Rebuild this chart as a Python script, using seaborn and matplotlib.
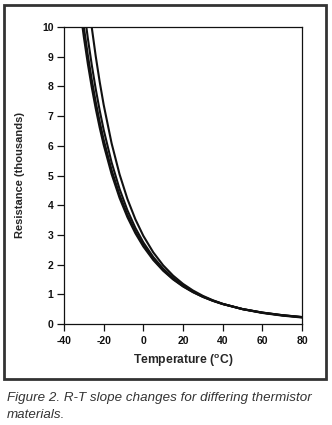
import matplotlib
matplotlib.use("Agg")
import matplotlib.pyplot as plt
import pandas as pd
import seaborn as sns
from matplotlib.patches import Rectangle

# Resistance (thousands of ohms) versus temperature for four thermistor materials
temperature_c = [-32, -30, -28, -26, -24, -22, -20, -16, -12, -8, -4, 0, 5, 10,
                 15, 20, 25, 30, 35, 40, 50, 60, 70, 80]
material_a = [10.67, 9.666, 8.768, 7.968, 7.252, 6.611, 6.033, 5.049, 4.248, 3.593,
              3.054, 2.608, 2.155, 1.793, 1.501, 1.264, 1.071, 0.912, 0.781, 0.672,
              0.504, 0.385, 0.299, 0.235]
material_b = [11.05, 10.00, 9.061, 8.224, 7.475, 6.807, 6.206, 5.183, 4.351, 3.673,
              3.115, 2.656, 2.189, 1.817, 1.518, 1.276, 1.079, 0.917, 0.784, 0.673,
              0.504, 0.384, 0.297, 0.233]
material_c = [11.80, 10.65, 9.628, 8.721, 7.911, 7.189, 6.540, 5.440, 4.549, 3.826,
              3.234, 2.747, 2.255, 1.864, 1.551, 1.298, 1.094, 0.926, 0.789, 0.675,
              0.502, 0.380, 0.292, 0.228]
material_d = [13.71, 12.32, 11.08, 9.985, 9.014, 8.152, 7.382, 6.084, 5.043, 4.204,
              3.523, 2.968, 2.413, 1.975, 1.629, 1.351, 1.129, 0.948, 0.801, 0.681,
              0.498, 0.372, 0.282, 0.218]

x_ticks = [-40, -20, 0, 20, 40, 60, 80]
y_ticks = [0, 1, 2, 3, 4, 5, 6, 7, 8, 9, 10]

curves = {"A": material_a, "B": material_b, "C": material_c, "D": material_d}
df = pd.concat(
    [pd.DataFrame({"Temperature": temperature_c, "Resistance": vals, "Material": name})
     for name, vals in curves.items()],
    ignore_index=True,
)

sns.set_style("ticks")
plt.rcParams["font.family"] = ["Liberation Sans", "DejaVu Sans"]
plt.rcParams["mathtext.fontset"] = "custom"
plt.rcParams["mathtext.rm"] = "Liberation Sans:bold"

fig = plt.figure(figsize=(3.32, 4.25), dpi=100)
ax = fig.add_axes([64 / 332, 1 - 324 / 425, (302 - 64) / 332, (324 - 27) / 425])

sns.lineplot(data=df, x="Temperature", y="Resistance", hue="Material",
             palette=["#111111"] * 4, linewidth=1.5, legend=False, ax=ax,
             sort=False, estimator=None)

ax.set_xlim(-40, 80)
ax.set_ylim(0, 10)
ax.set_xticks(x_ticks)
ax.set_yticks(y_ticks)
ax.set_xticklabels([str(v) for v in x_ticks])
ax.set_yticklabels([str(v) for v in y_ticks])
ax.tick_params(axis="both", direction="out", length=5, width=0.9, colors="#111111",
               labelsize=7.5, pad=2.5)
ax.tick_params(axis="x", pad=4)
for lab in ax.get_xticklabels() + ax.get_yticklabels():
    lab.set_fontweight("bold")
for side in ["left", "right", "top", "bottom"]:
    ax.spines[side].set_visible(True)
    ax.spines[side].set_color("#111111")
    ax.spines[side].set_linewidth(0.9)

ax.set_xlabel(r"Temperature ($^{\rm o}$C)", fontsize=8.7, fontweight="bold", labelpad=4)
ax.set_ylabel("Resistance (thousands)", fontsize=8.0, fontweight="bold", labelpad=12)

# Frame around the chart area
fig.patches.append(Rectangle((4 / 332, 1 - 379 / 425), (326 - 4) / 332, (379 - 5) / 425,
                             transform=fig.transFigure, fill=False, lw=2,
                             ec="#333333"))

fig.text(7 / 332, 1 - 398 / 425, "Figure 2. R-T slope changes for differing thermistor",
         fontsize=9.6, style="italic", color="#333333", va="center", ha="left")
fig.text(7 / 332, 1 - 415 / 425, "materials.",
         fontsize=9.6, style="italic", color="#333333", va="center", ha="left")

fig.savefig("out.png", dpi=100)
